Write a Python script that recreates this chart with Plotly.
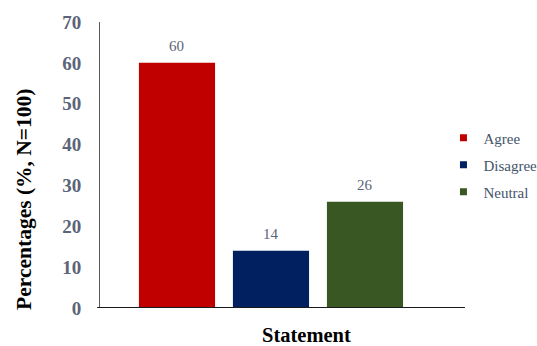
import plotly.graph_objects as go

categories = ["Agree", "Disagree", "Neutral"]
values = [60, 14, 26]
colors = ["#C00000", "#002060", "#385723"]
y_ticks = [0, 10, 20, 30, 40, 50, 60, 70]

fig = go.Figure()
for c, v, col in zip(categories, values, colors):
    fig.add_trace(go.Bar(
        x=[c], y=[v], name=c, marker=dict(color=col, line=dict(width=0)),
        width=0.81, showlegend=False, cliponaxis=False,
    ))
    # legend entry with small square marker
    fig.add_trace(go.Scatter(
        x=[None], y=[None], mode="markers", name=c, legendgroup=c,
        marker=dict(symbol="square", size=7, color=col),
    ))

annotations = [
    dict(x=c, y=v, xref="x", yref="y", text=str(v), showarrow=False,
         yanchor="bottom", yshift=7,
         font=dict(family="Liberation Serif", size=15, color="#5B6478"))
    for c, v in zip(categories, values)
]
annotations += [
    dict(text="Statement", xref="paper", yref="paper", x=0.566, y=0, yshift=-27,
         xanchor="center", yanchor="middle", showarrow=False,
         font=dict(family="Liberation Serif", size=20.5, color="black", weight="bold")),
    dict(text="Percentages (%, N=100)", xref="paper", yref="paper", x=0, xshift=-76, y=0.378,
         xanchor="center", yanchor="middle", textangle=-90, showarrow=False,
         font=dict(family="Liberation Serif", size=21.5, color="black", weight="bold")),
]

fig.update_layout(
    width=537, height=346,
    margin=dict(l=100, r=72, t=22, b=38, autoexpand=False),
    paper_bgcolor="white", plot_bgcolor="white",
    barmode="overlay",
    showlegend=True,
    legend=dict(x=0.941, y=0.50, xanchor="left", yanchor="middle",
                font=dict(family="Liberation Serif", size=15, color="#44546A"),
                tracegroupgap=4.5, itemwidth=30, bgcolor="rgba(0,0,0,0)"),
    xaxis=dict(range=[-0.819, 3.064], showticklabels=False, showgrid=False,
               zeroline=False, showline=False, fixedrange=True),
    yaxis=dict(range=[0, 70], tickvals=y_ticks, showgrid=False, zeroline=False,
               showline=True, linecolor="#595959", linewidth=1,
               ticks="", ticklabelstandoff=14,
               tickfont=dict(family="Liberation Serif", size=19, color="#5B6478", weight="bold")),
    font=dict(family="Liberation Serif"),
    shapes=[dict(type="line", xref="paper", yref="y", x0=-0.008, x1=1.0, y0=0, y1=0,
                 line=dict(color="#1a1a1a", width=2), layer="above")],
    annotations=annotations,
)

fig.write_html("out.html")
